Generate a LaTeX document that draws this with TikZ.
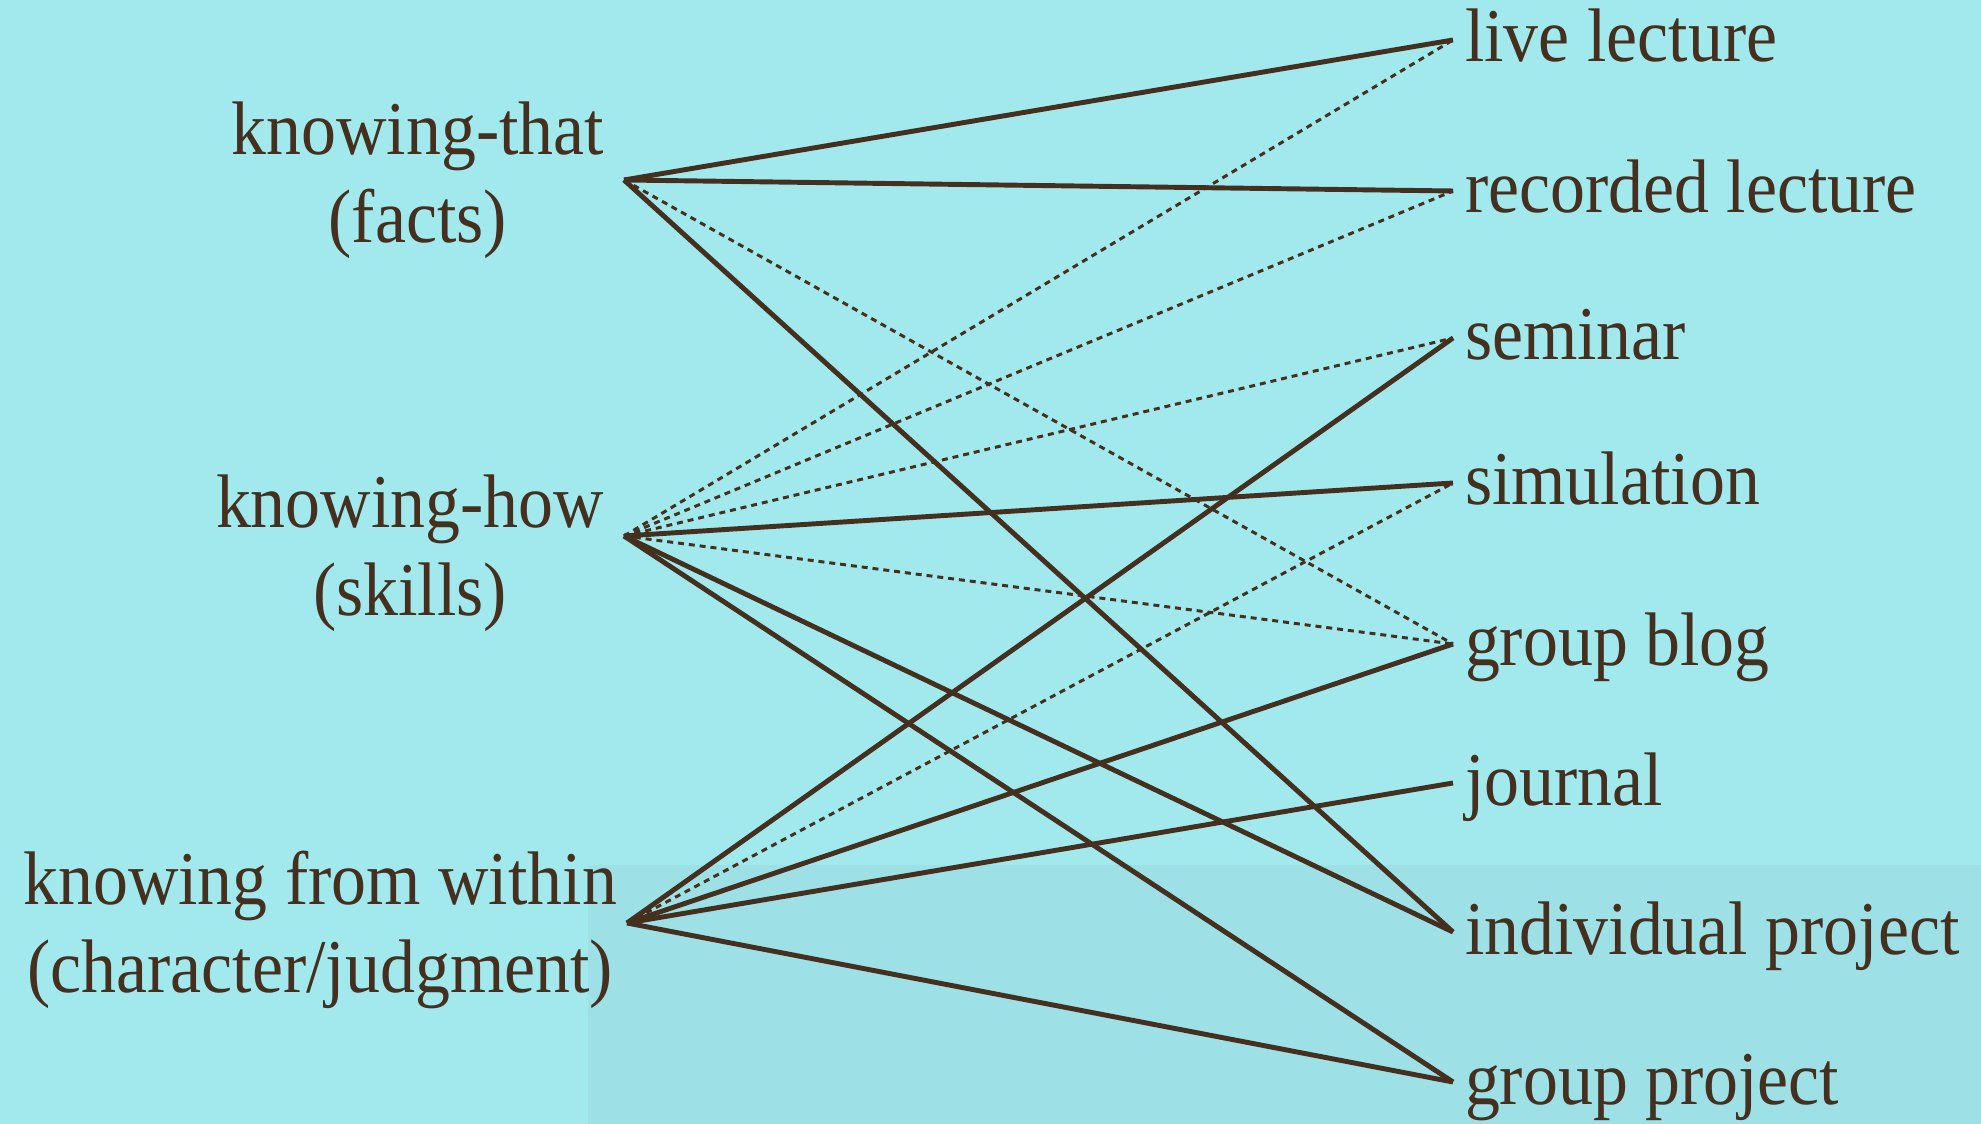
\documentclass[tikz,border=0pt]{standalone}
\usepackage{fontspec}
\setmainfont[FakeStretch=0.92]{Liberation Serif}
\usetikzlibrary{positioning}
\definecolor{SkyBack}{HTML}{A2E9EE}
\definecolor{SkyShade}{HTML}{9DE0E6}
\definecolor{InkBrown}{HTML}{45301F}

\begin{document}
\begin{tikzpicture}[
  kind/.style={text=InkBrown, font=\fontsize{21.6}{25}\selectfont, align=center, anchor=east, inner sep=0pt, outer sep=0.2cm},
  mode/.style={text=InkBrown, font=\fontsize{21.6}{25}\selectfont, anchor=west, inner sep=0pt, outer sep=0.12cm, text height=0.54cm, text depth=0.10cm},
  strong/.style={draw=InkBrown, line width=1.4pt},
  weak/.style={draw=InkBrown, line width=0.85pt, dash pattern=on 1.7pt off 1.4pt}
]
\fill[SkyBack] (0,0) rectangle (19.81,-11.24);
\fill[SkyShade] (5.88,-8.65) rectangle (19.81,-11.24);
\useasboundingbox (0,0) rectangle (19.81,-11.24);

\node[kind] (that) at (6.24,-1.80) {knowing-that\\(facts)};
\node[kind] (how) at (6.24,-5.53) {knowing-how\\(skills)};
\node[kind] (within) at (6.37,-9.30) {knowing from within\\(character/judgment)};

\node[mode] (live) at (14.53,-0.40) {live lecture};
\node[mode] (recorded) at (14.53,-1.91) {recorded lecture};
\node[mode] (seminar) at (14.53,-3.38) {seminar};
\node[mode] (simulation) at (14.53,-4.83) {simulation};
\node[mode] (blog) at (14.53,-6.44) {group blog};
\node[mode] (journal) at (14.53,-7.83) {journal};
\node[mode] (indiv) at (14.53,-9.32) {individual project};
\node[mode] (groupproj) at (14.53,-10.82) {group project};

\draw[strong] (that.east) -- (live.west);
\draw[strong] (that.east) -- (recorded.west);
\draw[weak] (that.east) -- (blog.west);
\draw[strong] (that.east) -- (indiv.west);

\draw[weak] ([yshift=1.7mm]how.east) -- (live.west);
\draw[weak] ([yshift=1.7mm]how.east) -- (recorded.west);
\draw[weak] ([yshift=1.7mm]how.east) -- (seminar.west);
\draw[strong] ([yshift=1.7mm]how.east) -- (simulation.west);
\draw[weak] ([yshift=1.7mm]how.east) -- (blog.west);
\draw[strong] ([yshift=1.7mm]how.east) -- (indiv.west);
\draw[strong] ([yshift=1.7mm]how.east) -- (groupproj.west);

\draw[strong] ([shift={(-1mm,0.7mm)}]within.east) -- (seminar.west);
\draw[weak] ([shift={(-1mm,0.7mm)}]within.east) -- (simulation.west);
\draw[strong] ([shift={(-1mm,0.7mm)}]within.east) -- (blog.west);
\draw[strong] ([shift={(-1mm,0.7mm)}]within.east) -- (journal.west);
\draw[strong] ([shift={(-1mm,0.7mm)}]within.east) -- (groupproj.west);
\end{tikzpicture}
\end{document}
